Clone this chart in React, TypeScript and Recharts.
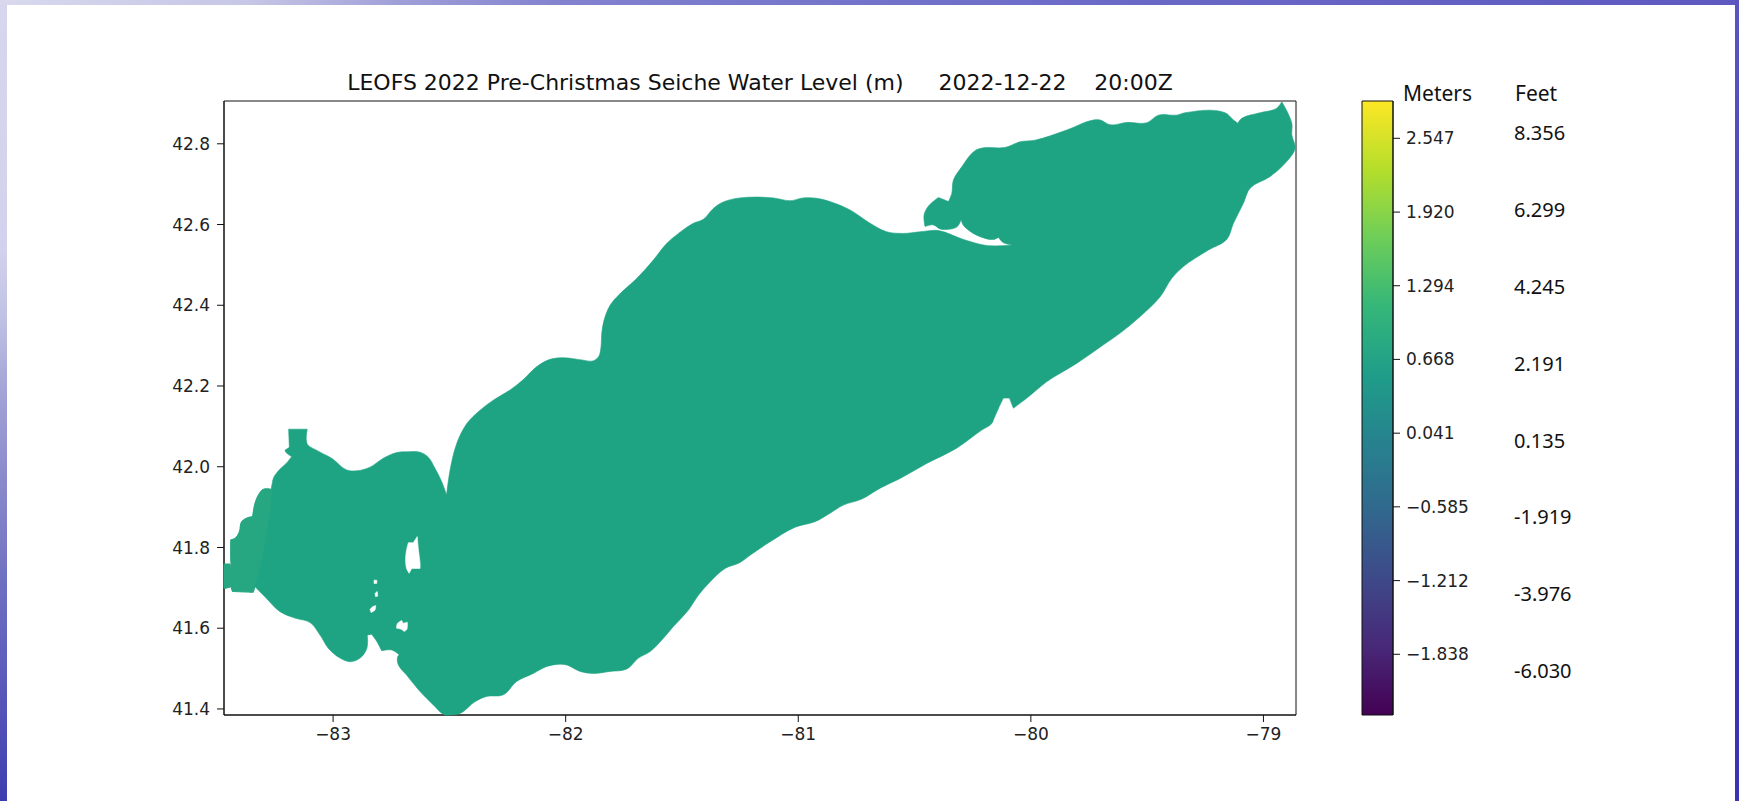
import React from 'react';
import { ComposedChart, Scatter, XAxis, YAxis, ReferenceArea, Bar, Line } from 'recharts';

const titleText = 'LEOFS 2022 Pre-Christmas Seiche Water Level (m)     2022-12-22    20:00Z';
const lonTicks = [-83, -82, -81, -80, -79];
const latTicks = [41.4, 41.6, 41.8, 42.0, 42.2, 42.4, 42.6, 42.8];
const lonDomain = [-83.469, -78.86];
const latDomain = [41.385, 42.906];
const meterTicks = [-1.838, -1.212, -0.585, 0.041, 0.668, 1.294, 1.92, 2.547];
const feetTicks = [-6.03, -3.976, -1.919, 0.135, 2.191, 4.245, 6.299, 8.356];
const meterDomain = [-2.354, 2.864];
const feetDomain = [-7.206, 9.21];
const viridisStops = ['#440154', '#482878', '#3e4989', '#31688e', '#26828e', '#1f9e89', '#35b779', '#6ece58', '#b5de2b', '#fde725'];
const lakeColor = '#1fa483';
const westColor = '#26a781';

const lakeOutline: [number, number][] = [
  [-83.469, 41.699], [-83.469, 41.759], [-83.443, 41.759], [-83.436, 41.74], [-83.44, 41.769], [-83.44, 41.819],
  [-83.421, 41.823], [-83.403, 41.839], [-83.393, 41.864], [-83.361, 41.875], [-83.346, 41.876], [-83.336, 41.909],
  [-83.317, 41.934], [-83.3, 41.944], [-83.264, 41.944], [-83.257, 41.971], [-83.235, 41.99], [-83.202, 42.008],
  [-83.178, 42.025], [-83.202, 42.035], [-83.207, 42.041], [-83.188, 42.048], [-83.191, 42.093], [-83.111, 42.093],
  [-83.111, 42.056], [-83.078, 42.043], [-83.006, 42.021], [-82.941, 41.992], [-82.898, 41.99], [-82.841, 41.999],
  [-82.784, 42.021], [-82.726, 42.035], [-82.676, 42.037], [-82.626, 42.036], [-82.59, 42.023], [-82.562, 41.996],
  [-82.533, 41.963], [-82.512, 41.93], [-82.497, 41.992], [-82.468, 42.058], [-82.425, 42.107], [-82.368, 42.14],
  [-82.311, 42.165], [-82.239, 42.19], [-82.182, 42.216], [-82.124, 42.248], [-82.067, 42.266],
  [-82.01, 42.27], [-81.924, 42.264], [-81.884, 42.262], [-81.859, 42.272], [-81.848, 42.297], [-81.845, 42.33],
  [-81.835, 42.363], [-81.809, 42.4], [-81.773, 42.425], [-81.695, 42.466], [-81.623, 42.512], [-81.566, 42.553],
  [-81.515, 42.578], [-81.451, 42.603], [-81.408, 42.613], [-81.365, 42.64], [-81.322, 42.656], [-81.25, 42.666],
  [-81.107, 42.666], [-81.035, 42.659], [-80.978, 42.666], [-80.921, 42.665], [-80.849, 42.654], [-80.777, 42.636],
  [-80.691, 42.603], [-80.62, 42.582], [-80.548, 42.578], [-80.477, 42.582], [-80.447, 42.584], [-80.397, 42.585],
  [-80.29, 42.563], [-80.189, 42.548], [-80.075, 42.549], [-80.118, 42.555], [-80.139, 42.568], [-80.161, 42.563],
  [-80.218, 42.57], [-80.268, 42.586], [-80.29, 42.598], [-80.3, 42.612], [-80.316, 42.595], [-80.354, 42.588],
  [-80.39, 42.589], [-80.419, 42.599], [-80.455, 42.595], [-80.459, 42.624], [-80.44, 42.646], [-80.397, 42.667],
  [-80.354, 42.657], [-80.34, 42.677], [-80.333, 42.71], [-80.297, 42.743], [-80.24, 42.783], [-80.204, 42.79],
  [-80.111, 42.791], [-80.046, 42.805], [-79.982, 42.809], [-79.846, 42.834], [-79.731, 42.859], [-79.702, 42.859],
  [-79.659, 42.847], [-79.588, 42.853], [-79.502, 42.852], [-79.451, 42.871], [-79.373, 42.871], [-79.337, 42.877],
  [-79.165, 42.877], [-79.129, 42.859], [-79.11, 42.851], [-79.093, 42.863], [-79.014, 42.877], [-78.943, 42.888],
  [-78.921, 42.904], [-78.878, 42.851], [-78.878, 42.822], [-78.864, 42.789], [-78.9, 42.756], [-78.971, 42.719],
  [-79.057, 42.69], [-79.086, 42.653], [-79.129, 42.603], [-79.158, 42.563], [-79.236, 42.537], [-79.344, 42.496],
  [-79.394, 42.467], [-79.444, 42.421], [-79.53, 42.372], [-79.616, 42.331], [-79.688, 42.302], [-79.803, 42.256],
  [-79.931, 42.211], [-80.017, 42.17], [-80.075, 42.145], [-80.092, 42.17], [-80.118, 42.17], [-80.139, 42.145],
  [-80.161, 42.116], [-80.168, 42.107], [-80.211, 42.091], [-80.319, 42.046], [-80.448, 42.008], [-80.562, 41.971],
  [-80.648, 41.947], [-80.727, 41.92], [-80.806, 41.905], [-80.863, 41.885], [-80.928, 41.864], [-81.014, 41.85],
  [-81.121, 41.814], [-81.207, 41.781], [-81.25, 41.763], [-81.315, 41.748], [-81.379, 41.715], [-81.429, 41.682],
  [-81.472, 41.645], [-81.537, 41.604], [-81.58, 41.575], [-81.637, 41.542], [-81.687, 41.526], [-81.737, 41.499],
  [-81.809, 41.493], [-81.881, 41.488], [-81.938, 41.493], [-81.995, 41.509], [-82.024, 41.511], [-82.082, 41.505],
  [-82.139, 41.488], [-82.211, 41.468], [-82.268, 41.435], [-82.34, 41.431], [-82.39, 41.418], [-82.454, 41.389],
  [-82.504, 41.385], [-82.519, 41.385], [-82.569, 41.41], [-82.626, 41.443], [-82.684, 41.484], [-82.719, 41.509],
  [-82.722, 41.53], [-82.715, 41.534], [-82.748, 41.546], [-82.791, 41.544], [-82.812, 41.567], [-82.834, 41.585],
  [-82.853, 41.583], [-82.855, 41.55], [-82.884, 41.526], [-82.927, 41.517], [-82.97, 41.526], [-83.02, 41.55],
  [-83.056, 41.583], [-83.099, 41.614], [-83.164, 41.625], [-83.228, 41.641], [-83.293, 41.678], [-83.336, 41.703],
  [-83.343, 41.689], [-83.433, 41.691], [-83.439, 41.703], [-83.464, 41.699],
];

const westShallows: [number, number][] = [
  [-83.469, 41.699], [-83.469, 41.759], [-83.443, 41.759], [-83.436, 41.74], [-83.44, 41.769], [-83.44, 41.819],
  [-83.421, 41.823], [-83.403, 41.839], [-83.393, 41.864], [-83.361, 41.875], [-83.346, 41.876], [-83.336, 41.909],
  [-83.317, 41.934], [-83.3, 41.944], [-83.264, 41.944], [-83.262, 41.955], [-83.271, 41.893], [-83.3, 41.794],
  [-83.336, 41.703], [-83.343, 41.689], [-83.433, 41.691], [-83.439, 41.703], [-83.464, 41.699],
];

const islandPelee: [number, number][] = [
  [-82.676, 41.812], [-82.655, 41.812], [-82.638, 41.827], [-82.633, 41.794], [-82.626, 41.761], [-82.626, 41.748],
  [-82.662, 41.748], [-82.673, 41.736], [-82.684, 41.748], [-82.688, 41.777], [-82.681, 41.802],
];
const islandA: [number, number][] = [[-82.824, 41.719], [-82.812, 41.719], [-82.812, 41.711], [-82.824, 41.711]];
const islandB: [number, number][] = [[-82.82, 41.686], [-82.81, 41.691], [-82.808, 41.68], [-82.817, 41.678]];
const islandC: [number, number][] = [[-82.83, 41.653], [-82.817, 41.656], [-82.82, 41.645], [-82.837, 41.639], [-82.841, 41.647]];
const islandD: [number, number][] = [
  [-82.724, 41.611], [-82.705, 41.619], [-82.698, 41.612], [-82.681, 41.615], [-82.684, 41.596], [-82.695, 41.592],
  [-82.705, 41.597], [-82.727, 41.6],
];
const islands = [islandPelee, islandA, islandB, islandC, islandD];

const toRows = (pairs: [number, number][]) => pairs.map(([lon, lat]) => ({ lon, lat }));
const barRows = [{ name: 'viridis', range: meterDomain, feetAnchor: 0 }];

const minus = (s: string) => s.replace('-', '\u2212');
const mplFont = '"DejaVu Sans", sans-serif';
const feetFont = '"Noto Sans", sans-serif';
const tickStyle = { fontSize: 17, fill: '#222', fontFamily: mplFont };
const noMark = () => null;

const strip = (style: React.CSSProperties) => <div style={{ position: 'absolute', ...style }} />;

// Closed curve factory: rounds gentle bends of a shoreline and keeps its sharp corners sharp.
const shoreCurve = (context: any) => {
  let pts: [number, number][] = [];
  return {
    areaStart() {},
    areaEnd() {},
    lineStart() {
      pts = [];
    },
    point(x: number, y: number) {
      pts.push([+x, +y]);
    },
    lineEnd() {
      const n = pts.length;
      if (!n) return;
      const tangents = pts.map((p, i) => {
        const a = pts[(i - 1 + n) % n];
        const b = pts[(i + 1) % n];
        const la = Math.hypot(p[0] - a[0], p[1] - a[1]) || 1;
        const lb = Math.hypot(b[0] - p[0], b[1] - p[1]) || 1;
        const cos = ((p[0] - a[0]) * (b[0] - p[0]) + (p[1] - a[1]) * (b[1] - p[1])) / (la * lb);
        if (cos < 0.55) return [0, 0];
        const tx = (p[0] - a[0]) / la + (b[0] - p[0]) / lb;
        const ty = (p[1] - a[1]) / la + (b[1] - p[1]) / lb;
        const l = Math.hypot(tx, ty) || 1;
        return [tx / l, ty / l];
      });
      context.moveTo(pts[0][0], pts[0][1]);
      for (let i = 0; i < n; i++) {
        const j = (i + 1) % n;
        const d = Math.hypot(pts[j][0] - pts[i][0], pts[j][1] - pts[i][1]) / 3;
        context.bezierCurveTo(
          pts[i][0] + tangents[i][0] * d,
          pts[i][1] + tangents[i][1] * d,
          pts[j][0] - tangents[j][0] * d,
          pts[j][1] - tangents[j][1] * d,
          pts[j][0],
          pts[j][1],
        );
      }
      context.closePath();
    },
  };
};

export default function App() {
  const polygon = (pairs: [number, number][], color: string, key: string) => (
    <Scatter
      key={key}
      data={toRows(pairs)}
      dataKey="lat"
      fill={color}
      line={{ fill: color, stroke: color, strokeWidth: 0.6 }}
      lineJointType={shoreCurve as any}
      shape={noMark}
      legendType="none"
      isAnimationActive={false}
    />
  );
  return (
    <div style={{ position: 'absolute', left: 0, top: 0, width: 1739, height: 801, overflow: 'hidden', background: '#fff' }}>
      {strip({ left: 0, top: 0, width: 7, height: 801, background: 'linear-gradient(180deg,#d6d6ee 0,#d2d2ec 250px,#c0c0e4 320px,#a2a2d6 395px,#8a8acb 480px,#7070c2 580px,#5a5abb 680px,#4848b4 760px,#3c3cae 801px)' })}
      {strip({ left: 0, top: 0, width: 1739, height: 5, background: 'linear-gradient(90deg,#d8d8ee 0,#c6c6e6 250px,#9f9fd8 400px,#8282cf 560px,#7676cb 800px,#6a68c6 1150px,#5d59c0 1739px)' })}
      {strip({ left: 1735, top: 0, width: 4, height: 801, background: 'linear-gradient(180deg,#5a55bf 0,#4a46ba 300px,#3b36b4 600px,#3a33b4 801px)' })}
      <div style={{ position: 'absolute', left: 0, top: 0 }}>
        <ComposedChart width={1739} height={801} margin={{ top: 101, right: 443, bottom: 46, left: 164 }}>
          <XAxis
            type="number"
            dataKey="lon"
            domain={lonDomain}
            ticks={lonTicks}
            interval={0}
            height={40}
            tickSize={7}
            tickMargin={6}
            tick={tickStyle}
            stroke="#111"
            tickFormatter={(v: number) => minus(String(v))}
            allowDuplicatedCategory={false}
          />
          <YAxis
            type="number"
            dataKey="lat"
            domain={latDomain}
            ticks={latTicks}
            interval={0}
            width={60}
            tickSize={7}
            tickMargin={7}
            tick={tickStyle}
            stroke="#111"
            tickFormatter={(v: number) => v.toFixed(1)}
          />
          {polygon(lakeOutline, lakeColor, 'lake')}
          {polygon(westShallows, westColor, 'west')}
          {islands.map((pairs, i) => polygon(pairs, '#ffffff', `island${i}`))}
          <ReferenceArea x1={lonDomain[0]} x2={lonDomain[1]} y1={latDomain[0]} y2={latDomain[1]} fill="none" stroke="#111" strokeWidth={1} ifOverflow="visible" />
          <text x={760} y={90} textAnchor="middle" fontSize={22} fill="#111" fontFamily={mplFont} style={{ whiteSpace: 'pre' }}>
            {titleText}
          </text>
        </ComposedChart>
      </div>
      <div style={{ position: 'absolute', left: 1300, top: 0 }}>
        <ComposedChart width={439} height={801} data={barRows} margin={{ top: 101, right: 125, bottom: 86, left: 62 }} barCategoryGap={0}>
          <defs>
            <linearGradient id="viridisBar" x1="0" y1="1" x2="0" y2="0">
              {viridisStops.map((c, i) => (
                <stop key={c} offset={i / (viridisStops.length - 1)} stopColor={c} />
              ))}
            </linearGradient>
          </defs>
          <XAxis dataKey="name" hide />
          <YAxis
            yAxisId="a-meters"
            orientation="right"
            type="number"
            domain={meterDomain}
            ticks={meterTicks}
            interval={0}
            width={121}
            tickSize={7}
            tickMargin={6}
            tick={tickStyle}
            stroke="#111"
            tickFormatter={(v: number) => minus(v.toFixed(3))}
          />
          <YAxis
            yAxisId="b-feet"
            orientation="right"
            type="number"
            domain={feetDomain}
            ticks={feetTicks}
            interval={0}
            width={100}
            axisLine={false}
            tickLine={false}
            tickSize={0}
            tickMargin={0}
            tick={{ fontSize: 20, fill: '#111', fontFamily: feetFont }}
            tickFormatter={(v: number) => v.toFixed(3)}
          />
          <Bar yAxisId="a-meters" dataKey="range" fill="url(#viridisBar)" stroke="#111" strokeWidth={1} isAnimationActive={false} />
          <Line yAxisId="b-feet" dataKey="feetAnchor" stroke="none" dot={{ r: 0, fill: 'none', stroke: 'none' }} activeDot={false} legendType="none" isAnimationActive={false} />
          <text x={103} y={101} fontSize={21} fill="#111" fontFamily={feetFont}>Meters</text>
          <text x={215} y={101} fontSize={21} fill="#111" fontFamily={feetFont}>Feet</text>
        </ComposedChart>
      </div>
    </div>
  );
}
